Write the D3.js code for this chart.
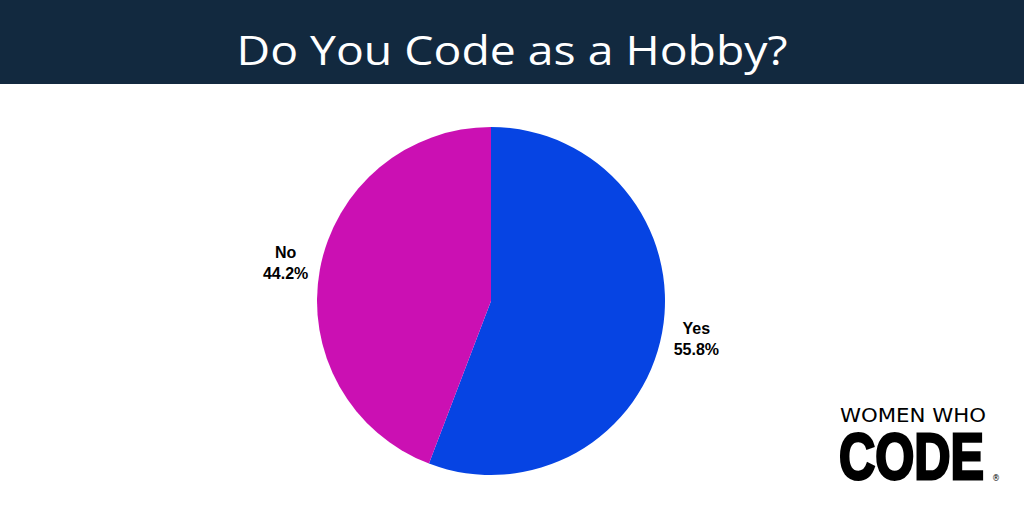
<!DOCTYPE html>
<html><head><meta charset="utf-8">
<script src="https://cdn.jsdelivr.net/npm/d3@7"></script>
<style>html,body{margin:0;padding:0;background:#fff;}svg{display:block;}</style>
</head><body>
<svg id="c" width="1024" height="512"></svg>
<script>
const categories = ["Yes", "No"];
const values = [55.8, 44.2];
const colors = ["#0644E3", "#CB10B3"];
const title = "Do You Code as a Hobby?";

const svg = d3.select("#c");
svg.append("rect").attr("x",0).attr("y",0).attr("width",1024).attr("height",84).attr("fill","#12293F");
svg.append("text").attr("x",512).attr("y",65).attr("text-anchor","middle")
  .attr("fill","#fff").attr("font-family","'Open Sans', sans-serif").attr("font-size",41)
  .attr("textLength",551).attr("lengthAdjust","spacingAndGlyphs").text(title);

const cx = 491, cy = 301, r = 174;
const pie = d3.pie().sort(null).value(d => d.v);
const data = pie(categories.map((c,i)=>({c, v: values[i], col: colors[i]})));
const arc = d3.arc().innerRadius(0).outerRadius(r);
const labelArc = d3.arc().innerRadius(r*1.2).outerRadius(r*1.2);
const g = svg.append("g").attr("transform",`translate(${cx},${cy})`);
g.selectAll("path").data(data).join("path").attr("d",arc).attr("fill",d=>d.data.col);
const lab = g.selectAll("text").data(data).join("text")
  .attr("transform", d => `translate(${labelArc.centroid(d)})`)
  .attr("text-anchor","middle").attr("font-family","'Liberation Sans', Arial, sans-serif")
  .attr("font-weight","bold").attr("font-size",16).attr("fill","#000");
lab.append("tspan").attr("x",0).attr("dy","-0.3em").text(d=>d.data.c);
lab.append("tspan").attr("x",0).attr("dy","1.3em").text(d=>d.data.v.toFixed(1)+"%");

// logo
const logo = svg.append("g");
logo.append("text").attr("x",840).attr("y",422).attr("font-family","'DejaVu Sans', sans-serif")
  .attr("font-size",20).attr("fill","#000").attr("textLength",146).attr("lengthAdjust","spacingAndGlyphs").text("WOMEN WHO");
logo.append("text").attr("transform","translate(839,479) scale(1,1.15)").attr("font-family","'Liberation Sans Narrow', 'Liberation Sans', sans-serif")
  .attr("font-weight","bold").attr("font-size",57).attr("fill","#000").attr("stroke","#000").attr("stroke-width",2.5)
  .attr("textLength",145).attr("lengthAdjust","spacingAndGlyphs").text("CODE");
logo.append("text").attr("x",996).attr("y",481).attr("text-anchor","middle").attr("font-family","'DejaVu Sans', sans-serif")
  .attr("font-size",8).attr("fill","#000").text("®");
</script>
</body></html>
